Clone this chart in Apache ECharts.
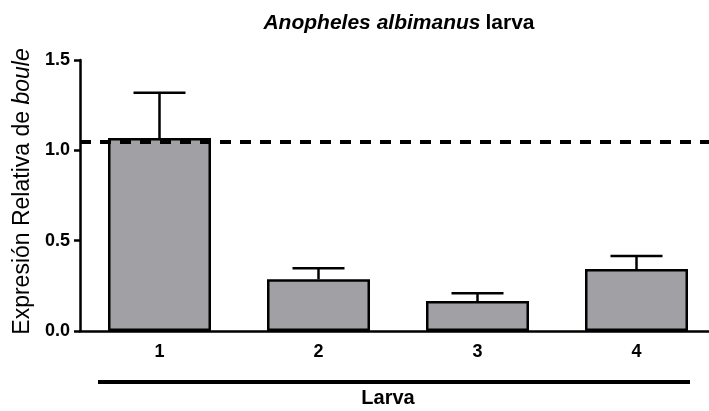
<!DOCTYPE html>
<html><head><meta charset="utf-8">
<script src="https://cdn.jsdelivr.net/npm/echarts@6/dist/echarts.min.js"></script>
<style>html,body{margin:0;padding:0;background:#fff}#c{width:709px;height:411px}</style>
</head><body><div id="c"></div>
<script>
var categories = ['1', '2', '3', '4'];
var means = [1.068, 0.286, 0.166, 0.343];
var errUpper = [1.319, 0.347, 0.209, 0.415];
var refLine = 1.05;
var yTicks = [0, 0.5, 1.0, 1.5];

var chart = echarts.init(document.getElementById('c'));
var F = '"Liberation Sans", Arial, sans-serif';
chart.setOption({
  animation: false,
  title: {
    text: '{i|Anopheles albimanus} {n|larva}',
    left: 394, top: 8, textAlign: 'center',
    textStyle: { rich: {
      i: { fontFamily: F, fontSize: 21, fontWeight: 'bold', fontStyle: 'italic', color: '#000' },
      n: { fontFamily: F, fontSize: 21, fontWeight: 'bold', color: '#000' }
    } }
  },
  grid: { left: 80, top: 60, width: 636, height: 271, containLabel: false, outerBoundsMode: 'none' },
  xAxis: {
    type: 'category', data: categories,
    axisLine: { lineStyle: { color: '#000', width: 2.5 } },
    axisTick: { alignWithLabel: true, length: 6, lineStyle: { color: '#000', width: 2.5 } },
    axisLabel: { color: '#000', fontFamily: F, fontWeight: 'bold', fontSize: 18, margin: 12 },
    name: 'Larva', nameLocation: 'middle', nameGap: 57,
    nameTextStyle: { color: '#000', fontFamily: F, fontWeight: 'bold', fontSize: 20, padding: [0, 20, 0, 0] }
  },
  yAxis: {
    type: 'value', min: 0, max: 1.5, interval: 0.5,
    axisLine: { show: true, lineStyle: { color: '#000', width: 2.5 } },
    axisTick: { show: true, length: 6, lineStyle: { color: '#000', width: 2.5 } },
    splitLine: { show: false },
    axisLabel: { color: '#000', fontFamily: F, fontWeight: 'bold', fontSize: 18, margin: 10,
      formatter: function (v) { return yTicks.indexOf(v) >= 0 ? v.toFixed(1) : ''; } },
    name: '{n|Expresión Relativa de }{i|boule}', nameLocation: 'middle', nameGap: 45, nameRotate: 90,
    nameTextStyle: { padding: [0, 0, 0, 8], rich: {
      n: { fontFamily: F, fontSize: 23, color: '#000' },
      i: { fontFamily: F, fontSize: 23, fontStyle: 'italic', color: '#000' }
    } }
  },
  graphic: [{
    type: 'line', shape: { x1: 98, y1: 382, x2: 690, y2: 382 },
    style: { stroke: '#000', lineWidth: 4 }
  }],
  series: [
    {
      type: 'custom',
      renderItem: function (params, api) {
        var x = api.coord([api.value(0), 0])[0];
        var top = api.coord([api.value(0), api.value(2)])[1];
        var base = api.coord([api.value(0), api.value(1)])[1];
        var half = 26;
        return { type: 'group', children: [
          { type: 'line', shape: { x1: x, y1: base, x2: x, y2: top }, style: { stroke: '#000', lineWidth: 2.5 } },
          { type: 'line', shape: { x1: x - half, y1: top, x2: x + half, y2: top }, style: { stroke: '#000', lineWidth: 2.5 } }
        ] };
      },
      data: categories.map(function (c, i) { return [i, means[i], errUpper[i]]; }),
      z: 1
    },
    {
      type: 'bar', data: means, barWidth: 103,
      itemStyle: { color: '#a1a0a5', borderColor: '#000', borderWidth: 2.5 },
      z: 2,
      markLine: {
        silent: true, symbol: 'none', label: { show: false },
        lineStyle: { type: [11, 9], color: '#000', width: 4 },
        data: [{ yAxis: refLine }]
      }
    }
  ]
});
</script></body></html>
